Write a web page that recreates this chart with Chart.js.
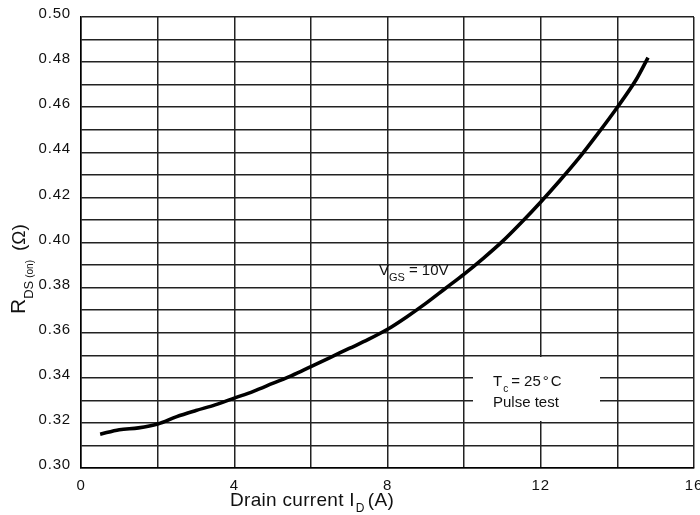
<!DOCTYPE html>
<html>
<head>
<meta charset="utf-8">
<script src="https://cdn.jsdelivr.net/npm/chart.js@4.4.0/dist/chart.umd.min.js"></script>
<style>
html,body{margin:0;padding:0;background:#fff;}
#wrap{width:700px;height:515px;position:relative;}
</style>
</head>
<body>
<div id="wrap"><canvas id="c" width="700" height="515"></canvas></div>
<script>
const currentA = [0.5,1.0,1.5,2.0,2.5,3.0,3.5,4.0,4.5,5.0,5.5,6.0,6.5,7.0,7.5,8.0,8.5,9.0,9.5,10.0,10.5,11.0,11.5,12.0,12.5,13.0,13.5,14.0,14.5,14.8];
const rdsOn = [0.315,0.317,0.3178,0.3195,0.3228,0.3255,0.328,0.331,0.334,0.3375,0.341,0.345,0.349,0.353,0.357,0.3615,0.367,0.373,0.3795,0.386,0.393,0.4005,0.409,0.418,0.4275,0.4375,0.4485,0.460,0.4725,0.482];
const xTickLabels = ['0','4','8','12','16'];
const yTickLabels = ['0.30','0.32','0.34','0.36','0.38','0.40','0.42','0.44','0.46','0.48','0.50'];

const FONT = '"Liberation Sans", Arial, sans-serif';

function drawRuns(ctx, runs, x, y) {
  let cx = x;
  for (const r of runs) {
    ctx.font = r.size + 'px ' + FONT;
    ctx.fillText(r.t, cx, y + (r.dy || 0));
    cx += ctx.measureText(r.t).width + (r.gap || 0);
  }
  return cx;
}

const textPlugin = {
  id: 'texts',
  beforeDatasetsDraw(chart) {
    const ctx = chart.ctx;
    ctx.save();
    ctx.fillStyle = '#fff';
    ctx.fillRect(473, 357, 127, 64);
    ctx.restore();
  },
  afterDraw(chart) {
    const ctx = chart.ctx;
    const xs = chart.scales.x, ys = chart.scales.y;
    ctx.save();
    ctx.fillStyle = '#111';
    ctx.textBaseline = 'middle';
    ctx.font = '15px ' + FONT;
    ctx.letterSpacing = '0.8px';
    ctx.textAlign = 'right';
    for (const l of yTickLabels) {
      ctx.fillText(l, 71, ys.getPixelForValue(parseFloat(l)) - 3);
    }
    ctx.textAlign = 'center';
    for (const l of xTickLabels) {
      ctx.fillText(l, xs.getPixelForValue(parseFloat(l)), 486);
    }
    ctx.letterSpacing = '0px';
    ctx.textAlign = 'left';
    ctx.textBaseline = 'alphabetic';
    // x title
    ctx.letterSpacing = '0.3px';
    drawRuns(ctx, [
      {t:'Drain current I', size:19, gap:1},
      {t:'D', size:12, dy:6, gap:3},
      {t:'(A)', size:19}
    ], 230, 506);
    ctx.letterSpacing = '0px';
    // y title
    ctx.save();
    ctx.translate(25, 314);
    ctx.rotate(-Math.PI/2);
    drawRuns(ctx, [
      {t:'R', size:21, gap:0},
      {t:'DS', size:13, dy:8, gap:3},
      {t:'(on)', size:10, dy:8, gap:9},
      {t:'(\u03A9)', size:19}
    ], 0, 0);
    ctx.restore();
    // VGS label
    drawRuns(ctx, [
      {t:'V', size:15},
      {t:'GS', size:11, dy:6, gap:4},
      {t:'= 10V', size:15}
    ], 379, 275);
    // Tc label
    drawRuns(ctx, [
      {t:'T', size:15, gap:1},
      {t:'c', size:10, dy:6, gap:3},
      {t:'= 25', size:15, gap:2},
      {t:'\u00B0', size:15, gap:2},
      {t:'C', size:15}
    ], 493, 386);
    ctx.font = '15px ' + FONT;
    ctx.fillText('Pulse test', 493, 407);
    ctx.restore();
  }
};

const points = currentA.map((v, i) => ({x: v, y: rdsOn[i]}));

new Chart(document.getElementById('c'), {
  type: 'line',
  data: {
    datasets: [{
      data: points,
      borderColor: '#000',
      borderWidth: 3.6,
      pointRadius: 0,
      cubicInterpolationMode: 'monotone',
      fill: false
    }]
  },
  options: {
    responsive: false,
    animation: false,
    devicePixelRatio: 1,
    layout: {padding: {left: 0, top: 17, right: 6, bottom: 0}},
    plugins: {legend: {display: false}, tooltip: {enabled: false}},
    scales: {
      x: {
        type: 'linear', min: 0, max: 16,
        ticks: {display: false, stepSize: 2},
        grid: {color: '#222', lineWidth: 1.5, drawTicks: false},
        border: {color: '#000', width: 1.5},
        afterFit(s) { s.height = 47; s.paddingLeft = 0; s.paddingRight = 0; }
      },
      y: {
        type: 'linear', min: 0.30, max: 0.50,
        ticks: {display: false, stepSize: 0.01},
        grid: {color: '#222', lineWidth: 1.5, drawTicks: false},
        border: {color: '#000', width: 1.5},
        afterFit(s) { s.width = 81; s.paddingTop = 0; s.paddingBottom = 0; }
      }
    }
  },
  plugins: [textPlugin]
});
</script>
</body>
</html>
